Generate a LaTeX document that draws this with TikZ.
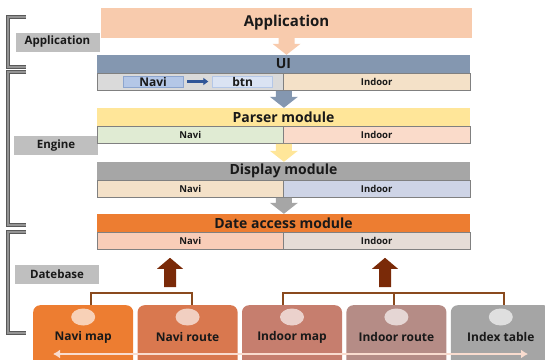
\documentclass[tikz,border=0pt]{standalone}
\usepackage{fontspec}
\setmainfont{Open Sans}
\usetikzlibrary{
    arrows.meta,
    positioning,
    calc,
    shapes.geometric
}

\definecolor{apppeach}{HTML}{F8CBAD}
\definecolor{uislate}{HTML}{8497B0}
\definecolor{uigrey}{HTML}{DADADA}
\definecolor{beige}{HTML}{F4E1C8}
\definecolor{parseryellow}{HTML}{FFE699}
\definecolor{sage}{HTML}{E0EBD3}
\definecolor{blush}{HTML}{FADBCA}
\definecolor{midgrey}{HTML}{A6A6A6}
\definecolor{lavender}{HTML}{CED4E6}
\definecolor{accessorange}{HTML}{ED7D31}
\definecolor{salmonlight}{HTML}{F8CDB8}
\definecolor{stone}{HTML}{E5DCD6}
\definecolor{navipale}{HTML}{B4C7E7}
\definecolor{btnpale}{HTML}{DAE3F3}
\definecolor{navyarrow}{HTML}{2F5597}
\definecolor{rust}{HTML}{7A2A08}
\definecolor{feedbrown}{HTML}{8A4A1E}
\definecolor{sidegrey}{HTML}{BFBFBF}
\definecolor{navimapc}{HTML}{ED7D31}
\definecolor{naviroutec}{HTML}{D9784F}
\definecolor{indoormapc}{HTML}{C67E6E}
\definecolor{indoorroutec}{HTML}{B58C86}
\definecolor{indexc}{HTML}{A5A5A5}
\definecolor{rail}{HTML}{F9DCCF}

\begin{document}
\begin{tikzpicture}[
        x=1pt, y=-1pt,
        every node/.style={font=\bfseries, text=black!90},
        bar/.style={
            rectangle,
            minimum width=373pt,
            minimum height=18pt,
            inner sep=0pt,
            font=\bfseries\fontsize{14}{16}\selectfont
        },
        half/.style={
            rectangle,
            draw=black!50,
            line width=0.6pt,
            minimum width=186.5pt,
            minimum height=17pt,
            inner sep=0pt,
            font=\bfseries\fontsize{9.5}{11}\selectfont
        },
        chip/.style={
            rectangle,
            line width=0.6pt,
            minimum width=60pt,
            minimum height=11pt,
            inner sep=0pt,
            font=\bfseries\fontsize{12}{12}\selectfont
        },
        side/.style={
            rectangle,
            fill=sidegrey,
            minimum width=84pt,
            minimum height=19pt,
            inner sep=0pt,
            font=\bfseries\fontsize{11.5}{13}\selectfont
        },
        store/.style={
            rectangle,
            rounded corners=7pt,
            minimum width=100pt,
            minimum height=64pt,
            inner sep=0pt,
            font=\bfseries\fontsize{12}{14}\selectfont
        },
        dot/.style={
            ellipse,
            fill=white,
            fill opacity=0.65,
            minimum width=24pt,
            minimum height=17pt,
            inner sep=0pt
        },
        bracket/.style={
            draw=black!65,
            double=black!42,
            double distance=2.3pt,
            line width=0.6pt
        },
        blockdown/.style={
            fill=#1,
            draw=none,
            to path={
                let \p1=(\tikztostart), \p2=(\tikztotarget) in
                (\x1-8pt,\y1) -- (\x1+8pt,\y1) -- (\x1+8pt,\y2+11pt)
                -- (\x1+14pt,\y2+11pt) -- (\x1,\y2)
                -- (\x1-14pt,\y2+11pt) -- (\x1-8pt,\y2+11pt) -- cycle
            }
        },
        blockup/.style={
            fill=rust,
            draw=none,
            to path={
                let \p1=(\tikztostart), \p2=(\tikztotarget) in
                (\x1-6pt,\y1) -- (\x1+6pt,\y1) -- (\x1+6pt,\y2-11pt)
                -- (\x1+13pt,\y2-11pt) -- (\x1,\y2)
                -- (\x1-13pt,\y2-11pt) -- (\x1-6pt,\y2-11pt) -- cycle
            }
        },
        navarrow/.style={
            -{Triangle[length=5pt,width=7pt]},
            line width=2.2pt,
            draw=navyarrow,
            shorten <=4pt,
            shorten >=4pt
        },
        feed/.style={
            draw=feedbrown,
            line width=2pt
        },
        rail/.style={
            {Latex[length=7pt,width=9pt]}-{Latex[length=7pt,width=9pt]},
            line width=2.6pt,
            draw=rail
        }
    ]

    \useasboundingbox (0,0) rectangle (545,359);

    % layer brackets on the left
    \draw[bracket] (26,17) -- (8,17) -- (8,67) -- (26,67);
    \draw[bracket] (26,72) -- (8,72) -- (8,225) -- (26,225);
    \draw[bracket] (26,232) -- (8,232) -- (8,333) -- (26,333);

    \node[side] (lblapp) at (57.5,42) {Application};
    \node[side] (lblengine) at (56,145.5) {Engine};
    \node[side] (lbldb) at (57,274.5) {Datebase};

    % application and engine layers
    \node[bar, fill=apppeach, minimum width=371pt, minimum height=30pt,
          font=\bfseries\fontsize{15}{17}\selectfont] (app)
        at (286.5,23) {Application};

    \node[bar, fill=uislate] (ui) at (283.5,64) {UI};
    \node[half, fill=uigrey, anchor=north west] (uinavi) at (ui.south west) {};
    \node[half, fill=beige, anchor=north east] (uiindoor) at (ui.south east) {Indoor};
    \node[chip, fill=navipale, draw=navipale!70!navyarrow] (uinavitag)
        at (153,81.5) {Navi};
    \node[chip, fill=btnpale, draw=navipale, right=29pt of uinavitag] (uibtn) {btn};

    \node[bar, fill=parseryellow] (parser) at (283.5,117) {Parser module};
    \node[half, fill=sage, anchor=north west] (parsernavi) at (parser.south west) {Navi};
    \node[half, fill=blush, anchor=north east] (parserindoor) at (parser.south east) {Indoor};

    \node[bar, fill=midgrey] (display) at (283.5,171) {Display module};
    \node[half, fill=beige, anchor=north west] (displaynavi) at (display.south west) {Navi};
    \node[half, fill=lavender, anchor=north east] (displayindoor) at (display.south east) {Indoor};

    \node[bar, fill=accessorange] (access) at (283.5,223) {Date access module};
    \node[half, fill=salmonlight, anchor=north west] (accessnavi) at (access.south west) {Navi};
    \node[half, fill=stone, anchor=north east] (accessindoor) at (access.south east) {Indoor};

    \draw[navarrow] (uinavitag) -- (uibtn);

    \path[blockdown=apppeach] (app.south) to (ui.north);
    \path[blockdown=uislate] (uinavi.south east) to (parser.north);
    \path[blockdown=parseryellow] (parsernavi.south east) to (display.north);
    \path[blockdown=midgrey] (displaynavi.south east) to (access.north);

    % database stores
    \node[store, fill=navimapc, anchor=north west] (navimap) at (33,305) {Navi map};
    \node[store, fill=naviroutec, right=4pt of navimap] (naviroute) {Navi route};
    \node[store, fill=indoormapc, right=4pt of naviroute] (indoormap) {Indoor map};
    \node[store, fill=indoorroutec, right=4pt of indoormap] (indoorroute) {Indoor route};
    \node[store, fill=indexc, right=4pt of indoorroute] (indextable) {Index table};

    \foreach \s in {navimap,naviroute,indoormap,indoorroute,indextable}
        \node[dot] (\s dot) at ([yshift=-12pt]\s.north) {};

    \coordinate (navijoin) at (170,293);
    \coordinate (indoorjoin) at (385,293);

    \draw[feed] ([xshift=8pt]navimap.north) |- (navijoin)
        -| ([xshift=4pt]naviroute.north);
    \draw[feed] ([xshift=-9pt]indoormap.north) |- (indoorjoin)
        -| ([xshift=3pt]indextable.north);
    \draw[feed] (indoorjoin) -| ([xshift=-2pt]indoorroute.north);

    \path[blockup] ([yshift=6pt]navijoin) to ([yshift=-8pt]accessnavi.south -| navijoin);
    \path[blockup] ([yshift=6pt]indoorjoin) to ([yshift=-8pt]accessindoor.south -| indoorjoin);

    \coordinate (railstart) at (53,354);
    \coordinate (railend) at (528,354);
    \draw[rail] (railstart) -- (railend);

\end{tikzpicture}
\end{document}
